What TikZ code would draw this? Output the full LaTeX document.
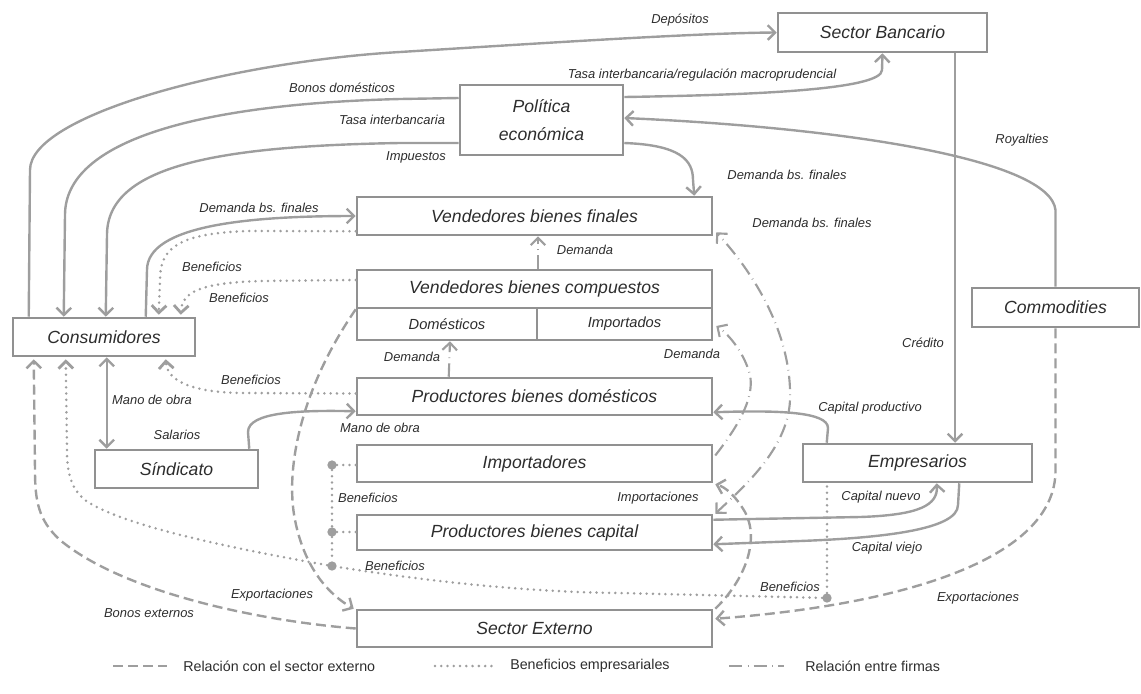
\documentclass[tikz,border=0pt]{standalone}
\usepackage{fontspec}
\setmainfont{Liberation Sans}
\usetikzlibrary{arrows.meta,calc}
\definecolor{lc}{RGB}{158,158,158}
\definecolor{bc}{RGB}{145,145,145}
\definecolor{tc}{RGB}{45,45,45}
\begin{document}
\begin{tikzpicture}[x=0.75pt,y=-0.75pt,
  box/.style={draw=bc,fill=white,line width=1.9pt,inner sep=0pt,text=tc,font=\fontsize{13.2pt}{21pt}\selectfont\itshape},
  subbox/.style={box,font=\fontsize{11pt}{13pt}\selectfont\itshape},
  bsize/.style 2 args={minimum width=#1*0.75pt,minimum height=#2*0.75pt},
  lbl/.style={text=tc,font=\fontsize{9.7pt}{11pt}\selectfont\itshape,inner sep=0pt},
  legtxt/.style={text=tc,font=\fontsize{10.7pt}{12pt}\selectfont,inner sep=0pt,anchor=west},
  sline/.style={draw=lc,line width=1.8pt},
  arr/.style={-{Straight Barb[length=5.5pt,width=11pt]}},
  arrboth/.style={{Straight Barb[length=5.5pt,width=11pt]}-{Straight Barb[length=5.5pt,width=11pt]}},
  dline/.style={draw=lc,line width=1.8pt,dash pattern=on 7.5pt off 3.75pt},
  pline/.style={draw=lc,line width=2.1pt,line cap=round,dash pattern=on 0pt off 4.7pt},
  fline/.style={draw=lc,line width=1.6pt,dash pattern=on 10pt off 4pt on 0.5pt off 4pt},
  dotc/.style={circle,fill=lc,inner sep=0pt,minimum size=7pt},
]
\useasboundingbox (0,0) rectangle (1141,693);

% boxes
\node[box,bsize={209}{39}] (bank) at (882.5,32.5) {Sector Bancario};
\node[box,bsize={163}{70},align=center] (pol) at (541.5,120) {Política\\económica};
\node[box,bsize={355}{38}] (vbf) at (534.5,216) {Vendedores bienes finales};
\node[box,bsize={355}{38}] (vbc) at (534.5,289) {Vendedores bienes compuestos};
\node[subbox,bsize={180}{32}] (dom) at (447,324) {Domésticos};
\node[subbox,bsize={175}{32}] (imd) at (624.5,324) {Importados};
\node[box,bsize={355}{37}] (pbd) at (534.5,396.5) {Productores bienes domésticos};
\node[box,bsize={355}{37}] (impo) at (534.5,463.5) {Importadores};
\node[box,bsize={355}{35}] (pbc) at (534.5,532.5) {Productores bienes capital};
\node[box,bsize={355}{37}] (sext) at (534.5,628.5) {Sector Externo};
\node[box,bsize={182}{38}] (cons) at (104,337) {Consumidores};
\node[box,bsize={163}{38}] (sind) at (176.5,469) {Síndicato};
\node[box,bsize={167}{39}] (comm) at (1055.5,307.5) {Commodities};
\node[box,bsize={229}{38}] (empr) at (917.5,463) {Empresarios};

% solid connectors
\draw[sline,arr] ($(cons.north west)+(17,0)$) -- (30,170) .. controls (30,115) and (230,62) .. (400,52) .. controls (560,42) and (700,33) .. (bank.west);
\draw[sline,arr] ($(pol.west)+(0,-22)$) -- (400,99) .. controls (200,104) and (65,140) .. (65,215) -- ($(cons.north west)+(52,0)$);
\draw[sline,arr] ($(pol.west)+(0,23)$) -- (400,143) .. controls (220,146) and (107,165) .. (107,235) -- ($(cons.north west)+(94,0)$);
\draw[sline,arr] ($(pol.east)+(0,-23)$) .. controls (750,95) and (882,90) .. (882,70) -- (bank.south);
\draw[sline,arr] (comm.north) -- (1055.5,210) .. controls (1050,160) and (850,128) .. ($(pol.east)+(0,-2)$);
\draw[sline,arr] ($(pol.east)+(0,23)$) .. controls (680,145) and (693,160) .. (693,180) -- ($(vbf.north east)+(-19,0)$);
\draw[sline,arr] ($(bank.south)+(72.5,0)$) -- ($(empr.north)+(37.5,0)$);
\draw[sline,arr] ($(cons.north west)+(134,0)$) -- (147,270) .. controls (147,225) and (250,216) .. (vbf.west);
\draw[sline,arrboth] ($(cons.south west)+(95,0)$) -- ($(sind.north west)+(13,0)$);
\draw[sline,arr] ($(sind.north east)+(-10,0)$) -- (248,432) .. controls (248,412) and (300,410) .. ($(pbd.south west)+(0,-5)$);
\draw[sline,arr] ($(empr.north west)+(25,0)$) -- (828,428) .. controls (828,412) and (780,410) .. ($(pbd.south east)+(0,-4)$);
\draw[sline,arr] ($(pbc.north east)+(0,6)$) -- (860,517) .. controls (920,515) and (938,505) .. ($(empr.south west)+(135,0)$);
\draw[sline,arr] ($(empr.south east)+(-74,0)$) -- (958,505) .. controls (958,530) and (880,538) .. (800,541) -- ($(pbc.south east)+(0,-7)$);

% firm relations
\draw[fline,arr] ($(vbc.north)+(3.5,0)$) -- ($(vbf.south)+(3.5,0)$);
\draw[fline,arr] ($(pbd.north west)+(93,0)$) -- ($(dom.south)+(3,0)$);
\draw[fline,arrboth] ($(pbc.north east)+(2,0)$) .. controls (740,490) and (788,450) .. (790,400) .. controls (792,340) and (760,280) .. ($(vbf.south east)+(3,-4)$);
\draw[fline,arr] ($(impo.east)+(2,-8)$) .. controls (735,430) and (755,400) .. (750,375) .. controls (745,355) and (730,335) .. ($(imd.east)+(3,2)$);

% external sector
\draw[dline,arr] (comm.south) -- (1055.5,470) .. controls (1056,560) and (900,605) .. ($(sext.north east)+(2,10)$);
\draw[dline,arr] ($(sext.north east)+(2,0)$) .. controls (745,580) and (760,540) .. (745,512) .. controls (735,495) and (725,487) .. ($(impo.south east)+(2,1)$);
\draw[dline,arr] (vbc.south west) .. controls (300,390) and (285,470) .. (295,520) .. controls (305,570) and (330,595) .. ($(sext.north west)+(-2,0)$);
\draw[dline,arr] (sext.west) .. controls (250,620) and (120,590) .. (60,540) .. controls (38,520) and (35,500) .. (35,470) -- ($(cons.south west)+(22,2)$);

% profits
\draw[pline,arr] ($(vbf.south west)+(0,-5)$) -- (250,231) .. controls (175,233) and (160,250) .. (160,280) -- ($(cons.north west)+(147,-2)$);
\draw[pline,arr] ($(vbc.west)+(0,-9)$) -- (260,281) .. controls (200,283) and (182,292) .. ($(cons.north west)+(169,-2)$);
\draw[pline,arr] ($(pbd.west)+(0,-3)$) -- (240,393) .. controls (190,392) and (167,380) .. ($(cons.south west)+(154,2)$);
\node[dotc] (c1) at (332,465) {};
\node[dotc] (c2) at (332,532) {};
\node[dotc] (c3) at (332,566) {};
\node[dotc] (c4) at (827,598) {};
\draw[pline] (c1) -- (c1 -| impo.west);
\draw[pline] (c2) -- (c2 -| pbc.west);
\draw[pline] (c1) -- (c2) -- (c3);
\draw[pline,arr] (c3) .. controls (230,548) and (120,525) .. (85,500) .. controls (70,488) and (67,470) .. (67,450) -- ($(cons.south west)+(54,2)$);
\draw[pline] (c4) -- (620,593) .. controls (520,592) and (420,580) .. (c3);
\draw[pline] (c4) -- (c4 |- empr.south);

% labels
\node[lbl] (t1) at (680,20) {Depósitos};
\node[lbl] (t2) at (342,88) {Bonos domésticos};
\node[lbl] (t3) at (392,120) {Tasa interbancaria};
\node[lbl] (t4) at (416,157) {Impuestos};
\node[lbl] (t5) at (702,75) {Tasa interbancaria/regulación macroprudencial};
\node[lbl] (t6) at (1022,140) {Royalties};
\node[lbl] (t7) at (787,175) {Demanda bs. finales};
\node[lbl] (t8) at (812,223) {Demanda bs. finales};
\node[lbl] (t9) at (259,208) {Demanda bs. finales};
\node[lbl] (t10) at (212,267) {Beneficios};
\node[lbl] (t11) at (239,298) {Beneficios};
\node[lbl] (t12) at (585,250) {Demanda};
\node[lbl] (t13) at (412,357) {Demanda};
\node[lbl] (t14) at (692,354) {Demanda};
\node[lbl] (t15) at (251,380) {Beneficios};
\node[lbl] (t16) at (152,400) {Mano de obra};
\node[lbl] (t17) at (177,435) {Salarios};
\node[lbl] (t18) at (380,428) {Mano de obra};
\node[lbl] (t19) at (923,343) {Crédito};
\node[lbl] (t20) at (870,408) {Capital productivo};
\node[lbl] (t21) at (368,498) {Beneficios};
\node[lbl] (t22) at (658,498) {Importaciones};
\node[lbl] (t23) at (881,497) {Capital nuevo};
\node[lbl] (t24) at (887,548) {Capital viejo};
\node[lbl] (t25) at (395,566) {Beneficios};
\node[lbl] (t26) at (790,587) {Beneficios};
\node[lbl] (t27) at (272,595) {Exportaciones};
\node[lbl] (t28) at (149,613) {Bonos externos};
\node[lbl] (t29) at (978,598) {Exportaciones};

% legend
\coordinate (la1) at (113,666); \coordinate (la2) at (167,666);
\coordinate (lb1) at (435,666); \coordinate (lb2) at (495,666);
\coordinate (lc1) at (729,666); \coordinate (lc2) at (784,666);
\draw[dline] (la1) -- (la2);
\draw[pline] (lb1) -- (lb2);
\draw[fline] (lc1) -- (lc2);
\node[legtxt] (lt1) at (183,666) {Relación con el sector externo};
\node[legtxt] (lt2) at (510,666) {Beneficios empresariales};
\node[legtxt] (lt3) at (805,666) {Relación entre firmas};
\end{tikzpicture}
\end{document}
